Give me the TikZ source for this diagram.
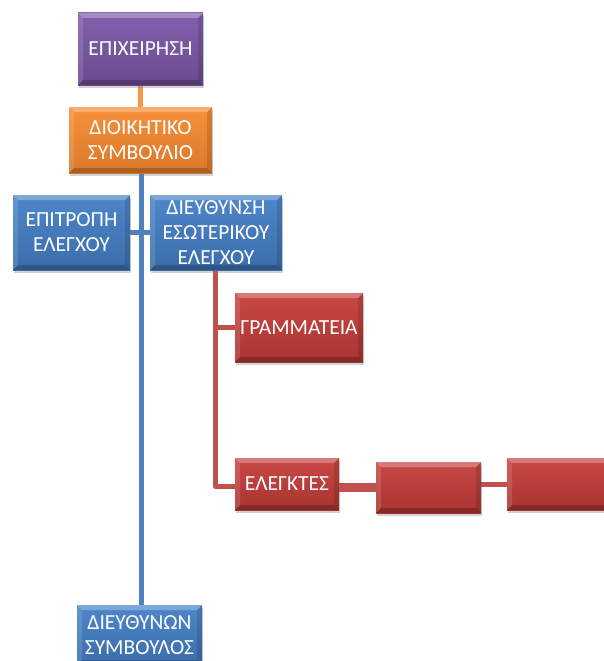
\documentclass[tikz,border=0pt]{standalone}
\usepackage{fontspec}
\setmainfont{Carlito}
\usetikzlibrary{shadows,backgrounds}
\definecolor{purp}{HTML}{7D58A8}
\definecolor{oran}{HTML}{F78A30}
\definecolor{blu}{HTML}{4580C8}
\definecolor{rd}{HTML}{C63E3A}
\definecolor{oranl}{HTML}{F79646}
\definecolor{blul}{HTML}{4F81BD}
\definecolor{rdl}{HTML}{C0504D}
\tikzset{
  bevel/.style={path picture={
    \coordinate (nw) at (path picture bounding box.north west);
    \coordinate (ne) at (path picture bounding box.north east);
    \coordinate (sw) at (path picture bounding box.south west);
    \coordinate (se) at (path picture bounding box.south east);
    \fill[white,opacity=0.28] (nw) -- (ne) -- ([shift={(-5pt,-5pt)}]ne) -- ([shift={(5pt,-5pt)}]nw) -- cycle;
    \fill[white,opacity=0.12] (nw) -- ([shift={(5pt,-5pt)}]nw) -- ([shift={(5pt,5pt)}]sw) -- (sw) -- cycle;
    \fill[black,opacity=0.22] (sw) -- (se) -- ([shift={(-5pt,5pt)}]se) -- ([shift={(5pt,5pt)}]sw) -- cycle;
    \fill[black,opacity=0.12] (ne) -- ([shift={(-5pt,-5pt)}]ne) -- ([shift={(-5pt,5pt)}]se) -- (se) -- cycle;
  }},
  box/.style={rectangle, inner sep=0pt, align=center, text=white,
    font=\fontsize{21.5}{25}\selectfont, bevel,
    drop shadow={opacity=0.35, shadow xshift=1pt, shadow yshift=-3pt}},
  purpbox/.style={box, top color=purp!95!white, bottom color=purp!85!black},
  oranbox/.style={box, top color=oran!95!white, bottom color=oran!88!black},
  blubox/.style={box, top color=blu!95!white, bottom color=blu!85!black},
  rdbox/.style={box, top color=rd!95!white, bottom color=rd!85!black},
  conn/.style={line width=5pt},
}
\begin{document}
\begin{tikzpicture}[x=1pt,y=-1pt]
\useasboundingbox (0,0) rectangle (603,661);
% nodes
\node[purpbox, minimum width=125pt, minimum height=72pt] (e) at (140.5,49) {ΕΠΙΧΕΙΡΗΣΗ};
\node[oranbox, minimum width=143pt, minimum height=66pt] (d) at (140.5,140) {ΔΙΟΙΚΗΤΙΚΟ\\ΣΥΜΒΟΥΛΙΟ};
\node[blubox, minimum width=117pt, minimum height=75pt] (ep) at (71.5,232.5) {ΕΠΙΤΡΟΠΗ\\ΕΛΕΓΧΟΥ};
\node[blubox, minimum width=132pt, minimum height=75pt] (dies) at (216,232.5) {ΔΙΕΥΘΥΝΣΗ\\ΕΣΩΤΕΡΙΚΟΥ\\ΕΛΕΓΧΟΥ};
\node[rdbox, minimum width=128pt, minimum height=69pt] (gr) at (299,327.5) {ΓΡΑΜΜΑΤΕΙΑ};
\node[rdbox, minimum width=104pt, minimum height=52pt] (el) at (287,484) {ΕΛΕΓΚΤΕΣ};
\node[rdbox, minimum width=105pt, minimum height=51pt] (b1) at (428.5,487.5) {};
\node[rdbox, minimum width=106pt, minimum height=52pt] (b2) at (560,484) {};
\node[blubox, minimum width=125pt, minimum height=60pt] (ds) at (139.5,635) {ΔΙΕΥΘΥΝΩΝ\\ΣΥΜΒΟΥΛΟΣ};
% connectors
\begin{scope}[on background layer]
\coordinate (bx) at ([xshift=1pt]d.south);
\coordinate (rx) at ([xshift=-1pt]dies.south);
\draw[conn, draw=oranl] (e.south) -- (d.north);
\draw[conn, draw=blul] (bx) -- (bx |- ds.north);
\draw[conn, draw=blul] (ep.east) -- (dies.west);
\draw[conn, draw=rdl, line join=round] (rx) |- (gr.west);
\draw[conn, draw=rdl, line join=round] (rx) |- ([yshift=-2pt]el.west);
\draw[line width=9pt, draw=rdl] (el.east |- b1.west) -- (b1.west);
\draw[conn, draw=rdl] (b1.east |- b2.west) -- (b2.west);
\end{scope}
\end{tikzpicture}
\end{document}
